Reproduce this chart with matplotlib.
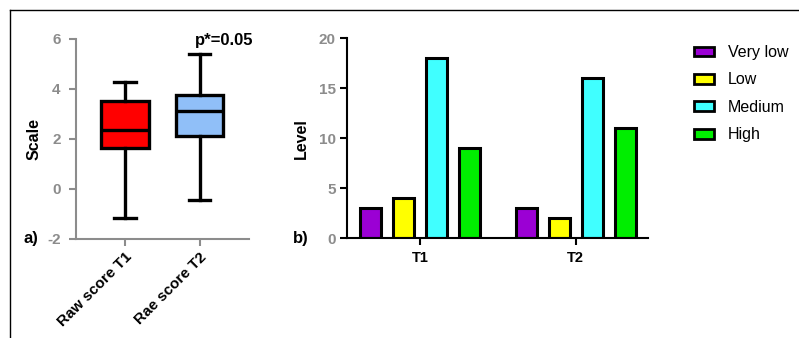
import matplotlib
matplotlib.use("Agg")
import matplotlib.pyplot as plt
from matplotlib.lines import Line2D
from matplotlib.patches import Patch
import numpy as np

plt.rcParams['font.family'] = ['Liberation Sans', 'DejaVu Sans']
plt.rcParams['axes.unicode_minus'] = False

# ---- data ----
box_labels = ["Raw score T1", "Rae score T2"]
box_whislo = [-1.17, -0.44]
box_q1 = [1.63, 2.12]
box_med = [2.36, 3.13]
box_q3 = [3.53, 3.77]
box_whishi = [4.27, 5.4]
box_colors = ["#FF0000", "#90BFF8"]

groups = ["T1", "T2"]
levels = ["Very low", "Low", "Medium", "High"]
level_values = {
    "Very low": [3, 3],
    "Low": [4, 2],
    "Medium": [18, 16],
    "High": [9, 11],
}
level_colors = ["#9B00D4", "#FFFF00", "#40FFFF", "#00EE00"]

W, H = 799, 338
fig = plt.figure(figsize=(W / 100, H / 100), dpi=100)
fig.patch.set_facecolor("white")

def fx(px):
    return px / W

def fy(py):
    return 1 - py / H

gray = "#8C8C8C"

# ---- box plot ----
ax1 = fig.add_axes([fx(76), fy(239), fx(249) - fx(76), fy(39) - fy(239)])
stats = []
for i in range(2):
    stats.append(dict(label=box_labels[i], whislo=box_whislo[i], q1=box_q1[i],
                      med=box_med[i], q3=box_q3[i], whishi=box_whishi[i], fliers=[]))
bp = ax1.bxp(stats, positions=[1, 2], widths=0.64, patch_artist=True,
             showfliers=False, capwidths=0.29,
             boxprops=dict(linewidth=2.4, edgecolor="black"),
             medianprops=dict(linewidth=2.4, color="black"),
             whiskerprops=dict(linewidth=2.4, color="black"),
             capprops=dict(linewidth=2.4, color="black"))
for patch, c in zip(bp['boxes'], box_colors):
    patch.set_facecolor(c)
ax1.set_xlim(0.342, 2.664)
ax1.set_ylim(-2, 6)
ax1.set_yticks([-2, 0, 2, 4, 6])
ax1.set_xticks([1, 2])
ax1.set_xticklabels(box_labels, rotation=45, ha="right", rotation_mode="anchor",
                    fontsize=11, fontweight="bold")
for s in ["top", "right"]:
    ax1.spines[s].set_visible(False)
for s in ["left", "bottom"]:
    ax1.spines[s].set_color(gray)
    ax1.spines[s].set_linewidth(1.5)
ax1.tick_params(axis="both", colors=gray, width=1.5, length=5)
ax1.tick_params(axis="x", labelcolor="black", pad=3)
ax1.tick_params(axis="y", labelsize=11, labelcolor=gray, pad=6)
for t in ax1.get_yticklabels():
    t.set_fontweight("bold")
ax1.set_ylabel("Scale", fontsize=11.5, fontweight="bold", labelpad=4)
ax1.text(1.94, 5.93, "p*=0.05", fontsize=12, fontweight="bold", ha="left", va="center",
         transform=ax1.transData)
fig.text(fx(23), fy(239), "a)", fontsize=12, fontweight="bold", ha="left", va="center")

# ---- bar chart ----
ax2 = fig.add_axes([fx(346.7), fy(238.3), fx(648) - fx(346.7), fy(38.3) - fy(238.3)])
x = np.arange(len(groups))
bw = 0.135
step = 0.212
for i, (lvl, col) in enumerate(zip(levels, level_colors)):
    ax2.bar(x + (i - 1.5) * step, level_values[lvl], width=bw, color=col,
            edgecolor="black", linewidth=2.2, label=lvl)
ax2.set_xlim(-0.471, 1.465)
ax2.set_ylim(0, 20)
ax2.set_yticks([0, 5, 10, 15, 20])
ax2.set_xticks(x)
ax2.set_xticklabels(groups, fontsize=10.5, fontweight="bold")
for s in ["top", "right"]:
    ax2.spines[s].set_visible(False)
for s in ["left", "bottom"]:
    ax2.spines[s].set_color("black")
    ax2.spines[s].set_linewidth(1.5)
ax2.tick_params(axis="both", colors="black", width=1.5, length=5)
ax2.tick_params(axis="x", pad=4)
ax2.tick_params(axis="y", labelsize=11, labelcolor=gray, pad=3)
for t in ax2.get_yticklabels():
    t.set_fontweight("bold")
ax2.set_ylabel("Level", fontsize=11.5, fontweight="bold", labelpad=7)
fig.text(fx(293), fy(238), "b)", fontsize=12, fontweight="bold", ha="left", va="center")

handles = [Patch(facecolor=c, edgecolor="black", linewidth=2.0) for c in level_colors]
leg = fig.legend(handles, levels, loc="upper left", bbox_to_anchor=(fx(694), fy(45)),
                 frameon=False, fontsize=11.5, handlelength=1.25, handleheight=0.55,
                 handletextpad=0.86, labelspacing=0.78, borderpad=0, borderaxespad=0)

# ---- frame lines ----
fig.add_artist(Line2D([fx(10), 1.0], [fy(10), fy(10)], color="black", linewidth=1.0))
fig.add_artist(Line2D([fx(10), fx(10)], [fy(10), 0.0], color="black", linewidth=1.0))

fig.savefig("out.png", dpi=100, facecolor="white")
